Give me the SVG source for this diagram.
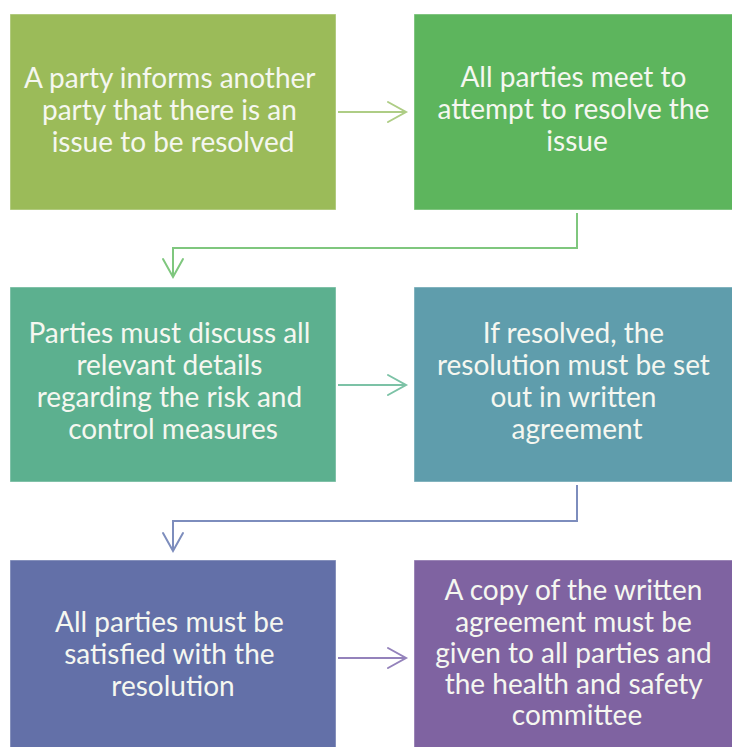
<svg xmlns="http://www.w3.org/2000/svg" width="732" height="747" viewBox="0 0 732 747">
  <defs>
    <style>
      .box { stroke: #ffffff; stroke-opacity: 0.45; stroke-width: 1; }
      .label { font-family: Lato, "Open Sans", "Liberation Sans", sans-serif; font-size: 28px; fill: #f5f7f0; text-anchor: middle; }
      .conn { fill: none; stroke-width: 2; stroke-linejoin: miter; }
      .head { fill: none; stroke-width: 2; stroke-linecap: round; stroke-linejoin: miter; }
    </style>
  </defs>
  <rect width="732" height="747" fill="#ffffff"/>

  <!-- Step 1 -->
  <g id="step1">
    <rect class="box" x="10" y="14" width="326" height="196" fill="#9bbb59"/>
    <text class="label">
      <tspan x="173" y="88">A party informs another</tspan>
      <tspan x="173" y="120">party that there is an</tspan>
      <tspan x="173" y="152">issue to be resolved</tspan>
    </text>
  </g>

  <!-- Step 2 -->
  <g id="step2">
    <rect class="box" x="414" y="14" width="326" height="196" fill="#5db55d"/>
    <text class="label">
      <tspan x="577" y="87">All parties meet to</tspan>
      <tspan x="577" y="119">attempt to resolve the</tspan>
      <tspan x="577" y="151">issue</tspan>
    </text>
  </g>

  <!-- Step 3 -->
  <g id="step3">
    <rect class="box" x="10" y="287" width="326" height="195" fill="#5cb08f"/>
    <text class="label">
      <tspan x="173" y="343">Parties must discuss all</tspan>
      <tspan x="173" y="375">relevant details</tspan>
      <tspan x="173" y="407">regarding the risk and</tspan>
      <tspan x="173" y="439">control measures</tspan>
    </text>
  </g>

  <!-- Step 4 -->
  <g id="step4">
    <rect class="box" x="414" y="287" width="326" height="195" fill="#5f9dac"/>
    <text class="label">
      <tspan x="577" y="343">If resolved, the</tspan>
      <tspan x="577" y="375">resolution must be set</tspan>
      <tspan x="577" y="407">out in written</tspan>
      <tspan x="577" y="439">agreement</tspan>
    </text>
  </g>

  <!-- Step 5 -->
  <g id="step5">
    <rect class="box" x="10" y="560" width="326" height="196" fill="#6370a8"/>
    <text class="label">
      <tspan x="173" y="632">All parties must be</tspan>
      <tspan x="173" y="664">satisfied with the</tspan>
      <tspan x="173" y="696">resolution</tspan>
    </text>
  </g>

  <!-- Step 6 -->
  <g id="step6">
    <rect class="box" x="414" y="560" width="326" height="196" fill="#7f63a1"/>
    <text class="label">
      <tspan x="577" y="600">A copy of the written</tspan>
      <tspan x="577" y="632">agreement must be</tspan>
      <tspan x="577" y="663">given to all parties and</tspan>
      <tspan x="577" y="694">the health and safety</tspan>
      <tspan x="577" y="725">committee</tspan>
    </text>
  </g>

  <!-- Connectors -->
  <g id="connectors">
    <!-- 1 to 2 -->
    <path class="conn" stroke="#aecd85" d="M338 112 H405"/>
    <path class="head" stroke="#aecd85" d="M388 102 L406 112 L388 122"/>
    <!-- 2 to 3 -->
    <path class="conn" stroke="#7fc77e" d="M577 213 V248 H173 V276"/>
    <path class="head" stroke="#7fc77e" d="M163 259 L173 277 L183 259"/>
    <!-- 3 to 4 -->
    <path class="conn" stroke="#7cc2a6" d="M338 385 H405"/>
    <path class="head" stroke="#7cc2a6" d="M388 375 L406 385 L388 395"/>
    <!-- 4 to 5 -->
    <path class="conn" stroke="#7d8dbd" d="M577 485 V521 H173 V550"/>
    <path class="head" stroke="#7d8dbd" d="M163 533 L173 551 L183 533"/>
    <!-- 5 to 6 -->
    <path class="conn" stroke="#9482bb" d="M338 658 H405"/>
    <path class="head" stroke="#9482bb" d="M388 648 L406 658 L388 668"/>
  </g>
</svg>
